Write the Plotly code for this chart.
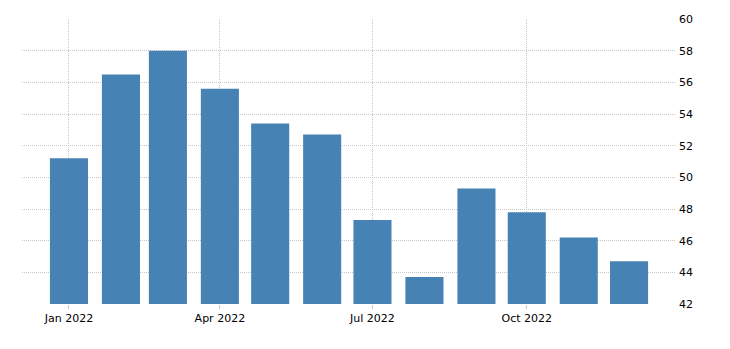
import plotly.graph_objects as go

months = ["2022-01-01", "2022-02-01", "2022-03-01", "2022-04-01", "2022-05-01", "2022-06-01",
          "2022-07-01", "2022-08-01", "2022-09-01", "2022-10-01", "2022-11-01", "2022-12-01"]
values = [51.2, 56.5, 58.0, 55.6, 53.4, 52.7, 47.3, 43.7, 49.3, 47.8, 46.2, 44.7]
x_ticks = ["2022-01-01", "2022-04-01", "2022-07-01", "2022-10-01"]
x_tick_labels = ["Jan 2022", "Apr 2022", "Jul 2022", "Oct 2022"]
y_ticks = [42, 44, 46, 48, 50, 52, 54, 56, 58, 60]

DAY_MS = 86400000

fig = go.Figure(go.Bar(
    x=months, y=values,
    width=22.7 * DAY_MS,
    marker=dict(color="#4682B4", line=dict(width=0)),
))

fig.update_layout(
    width=730, height=349,
    margin=dict(l=22, r=54, t=19, b=45),
    paper_bgcolor="white", plot_bgcolor="white",
    showlegend=False,
    font=dict(family="DejaVu Sans", size=11, color="#000000"),
    xaxis=dict(
        type="date",
        range=["2021-12-04", "2022-12-29"],
        tickvals=x_ticks, ticktext=x_tick_labels,
        showgrid=True, gridcolor="#c8c8c8", griddash="1px,1px", gridwidth=1,
        ticks="outside", ticklen=4, tickcolor="#cccccc",
        showline=False, zeroline=False,
    ),
    yaxis=dict(
        side="right",
        range=[42, 60],
        tickvals=y_ticks,
        showgrid=True, gridcolor="#c8c8c8", griddash="1px,1px", gridwidth=1,
        ticks="", showline=False, zeroline=False,
        ticklabelstandoff=2,
    ),
)

fig.write_html("out.html")
